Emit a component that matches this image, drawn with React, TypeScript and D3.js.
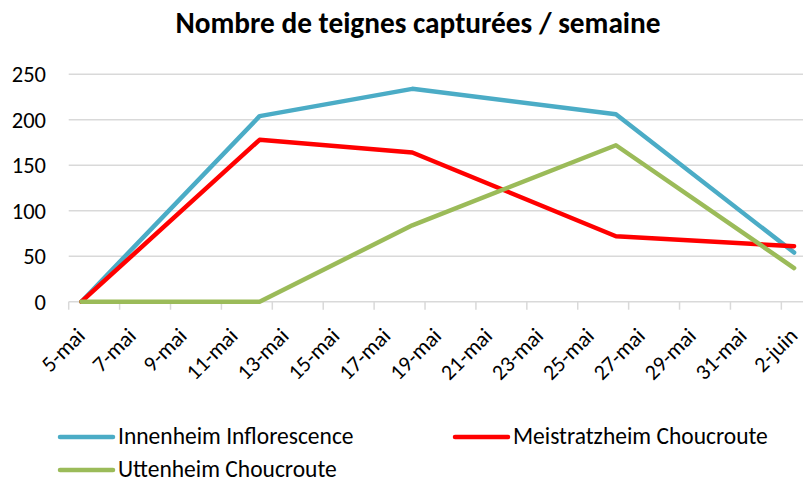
import React from 'react'
import * as d3 from 'd3'

// dates of the weekly counts (year is arbitrary)
const dates = ['2019-05-05', '2019-05-12', '2019-05-18', '2019-05-26', '2019-06-02']
const innenheim = [0, 204, 234, 206, 54]
const meistratzheim = [0, 178, 164, 72, 61]
const uttenheim = [0, 0, 84, 172, 37]
const seriesNames = ['Innenheim Inflorescence', 'Meistratzheim Choucroute', 'Uttenheim Choucroute']
const seriesColors = ['#4bacc6', '#ff0000', '#9bbb59']
const yTicks = [0, 50, 100, 150, 200, 250]
const moisFr = ['janv', 'févr', 'mars', 'avr', 'mai', 'juin', 'juil', 'août', 'sept', 'oct', 'nov', 'déc']

const width = 803
const height = 482
const font = 'Carlito, Lato, "Liberation Sans", Arial, sans-serif'

export default function App () {
  const parse = d3.utcParse('%Y-%m-%d')
  const start = parse('2019-05-05') as Date
  const end = d3.utcDay.offset(start, 29)

  const x = d3.scaleUtc().domain([start, end]).range([68.7, 806.8])
  const y = d3.scaleLinear().domain([0, 250]).range([301.7, 74.3])

  // tick boundaries every 2 days, labels centered on the day
  const tickDays = d3.range(0, 15).map(i => d3.utcDay.offset(start, i * 2))
  const mid = (d: Date) => x(d3.utcHour.offset(d, 12))

  const all = [innenheim, meistratzheim, uttenheim]
  const line = d3.line<number>()
    .x((_, i) => mid(parse(dates[i]) as Date))
    .y(d => y(d))

  const fmt = (d: Date) => d.getUTCDate() + '-' + moisFr[d.getUTCMonth()]

  const legend = [
    { x: 58, y: 437 },
    { x: 453, y: 437 },
    { x: 58, y: 470 }
  ]

  return (
    <svg width={width} height={height} style={{ position: 'absolute', left: 0, top: 0, fontFamily: font }}>
      <rect width={width} height={height} fill='#fff' />
      <text x={418} y={33} textAnchor='middle' fontSize={29.3} fontWeight='bold' fill='#000'>
        Nombre de teignes capturées / semaine
      </text>

      {/* grid + y labels */}
      {yTicks.map(t => (
        <g key={t}>
          <line x1={68.7} x2={width} y1={y(t)} y2={y(t)} stroke='#d9d9d9' strokeWidth={1.5} />
          <text x={46} y={y(t)} dy='0.36em' textAnchor='end' fontSize={22.5} fill='#000'>{t}</text>
        </g>
      ))}

      {/* x axis ticks */}
      {tickDays.map((d, i) => (
        <g key={i}>
          <line x1={x(d)} x2={x(d)} y1={y(0)} y2={y(0) + 8} stroke='#d9d9d9' strokeWidth={1.5} />
          <text
            transform={`translate(${mid(d) - 0.5},${y(0) + 30}) rotate(-45)`}
            textAnchor='end'
            dy='0.35em'
            fontSize={22}
            fill='#000'
          >{fmt(d)}</text>
        </g>
      ))}

      {all.map((s, i) => (
        <path key={i} d={line(s) || ''} fill='none' stroke={seriesColors[i]} strokeWidth={4.5}
          strokeLinejoin='round' strokeLinecap='round' />
      ))}

      {seriesNames.map((n, i) => (
        <g key={n} transform={`translate(${legend[i].x},${legend[i].y})`}>
          <line x1={2} x2={55} y1={0} y2={0} stroke={seriesColors[i]} strokeWidth={4.5} strokeLinecap='round' />
          <text x={60} y={0} dy='0.3em' fontSize={23.5} fill='#000'>{n}</text>
        </g>
      ))}
    </svg>
  )
}
